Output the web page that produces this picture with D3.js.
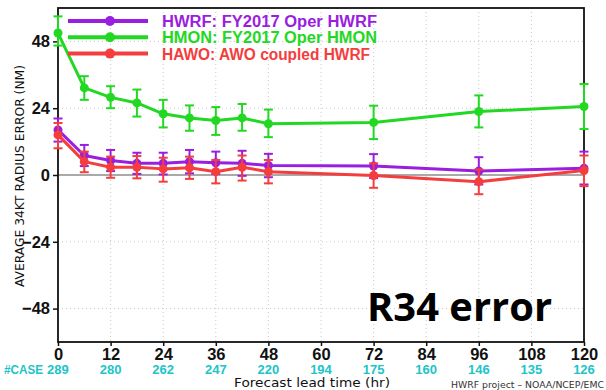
<!DOCTYPE html>
<html>
<head>
<meta charset="utf-8">
<script src="https://cdn.jsdelivr.net/npm/d3@7"></script>
<style>
  body { margin: 0; background: #fff; }
  svg { display: block; }
</style>
</head>
<body>
<div id="chart"></div>
<script>
// forecast lead times (hr) and verification counts
var leadHours = [0, 6, 12, 18, 24, 30, 36, 42, 48, 72, 96, 120];
var xTicks = [0, 12, 24, 36, 48, 60, 72, 84, 96, 108, 120];
var caseCounts = [289, 280, 262, 247, 220, 194, 175, 160, 146, 135, 126];
var yTicks = [-48, -24, 0, 24, 48];

// mean R34 error (NM) with error bar ends
var hwrfMean = [16.2, 7.0, 5.2, 4.2, 4.2, 4.8, 4.4, 4.2, 3.4, 3.2, 1.4, 2.4];
var hwrfHigh = [20.3, 10.8, 9.0, 8.0, 8.0, 9.0, 8.4, 8.7, 7.6, 7.5, 6.4, 8.4];
var hwrfLow = [12.0, 3.2, 1.4, 0.4, 0.2, 0.6, 0.4, -0.3, -0.8, -1.1, -3.4, -3.4];

var hmonMean = [51.0, 31.3, 27.9, 25.9, 22.0, 20.5, 19.6, 20.5, 18.4, 18.9, 22.8, 24.6];
var hmonHigh = [57.0, 35.5, 31.9, 30.7, 27.0, 25.0, 24.4, 25.5, 23.5, 24.9, 28.6, 32.7];
var hmonLow = [46.5, 27.0, 24.0, 21.0, 17.1, 15.9, 14.4, 15.9, 13.6, 12.9, 17.1, 16.5];

var hawoMean = [14.4, 4.8, 2.8, 2.8, 2.2, 2.6, 1.2, 2.8, 1.2, -0.2, -2.4, 1.6];
var hawoHigh = [18.7, 8.4, 6.6, 6.8, 6.2, 6.6, 5.4, 7.0, 5.4, 4.2, 2.0, 7.0];
var hawoLow = [9.6, 1.0, -1.0, -1.2, -2.4, -1.4, -3.0, -2.0, -3.0, -4.6, -6.9, -4.0];

var seriesNames = ['HWRF: FY2017  Oper  HWRF', 'HMON: FY2017  Oper  HMON', 'HAWO: AWO  coupled  HWRF'];
var seriesColors = ['#9a1ee0', '#22d822', '#f53d3d'];

var series = [
  {name: seriesNames[0], color: seriesColors[0], mean: hwrfMean, hi: hwrfHigh, lo: hwrfLow},
  {name: seriesNames[1], color: seriesColors[1], mean: hmonMean, hi: hmonHigh, lo: hmonLow},
  {name: seriesNames[2], color: seriesColors[2], mean: hawoMean, hi: hawoHigh, lo: hawoLow}
];

var W = 606, H = 390;
var x = d3.scaleLinear().domain([0, 120]).range([58, 584]);
var y = d3.scaleLinear().domain([-60, 60]).range([342, 8]);

var svg = d3.select('#chart').append('svg')
  .attr('width', W).attr('height', H);

var num = 'Liberation Sans, Arial, sans-serif';

// dotted grid
var grid = svg.append('g');
grid.selectAll('line.gx')
  .data(xTicks.filter(function(d) { return d > 0 && d < 120; }))
  .enter().append('line')
  .attr('x1', function(d) { return x(d); }).attr('x2', function(d) { return x(d); })
  .attr('y1', y(60)).attr('y2', y(-60))
  .attr('stroke', '#c8c8c8').attr('stroke-width', 1).attr('stroke-dasharray', '1,3');
grid.selectAll('line.gy')
  .data(yTicks.filter(function(d) { return d !== 0; }))
  .enter().append('line')
  .attr('y1', function(d) { return y(d); }).attr('y2', function(d) { return y(d); })
  .attr('x1', x(0)).attr('x2', x(120))
  .attr('stroke', '#c8c8c8').attr('stroke-width', 1).attr('stroke-dasharray', '1,3');

// zero line
svg.append('line')
  .attr('x1', x(0)).attr('x2', x(120)).attr('y1', y(0)).attr('y2', y(0))
  .attr('stroke', '#8c8c8c').attr('stroke-width', 1.5);

// frame
svg.append('rect')
  .attr('x', x(0)).attr('y', y(60))
  .attr('width', x(120) - x(0)).attr('height', y(-60) - y(60))
  .attr('fill', 'none').attr('stroke', '#111').attr('stroke-width', 1.8);

// axes
var xAxis = svg.append('g')
  .attr('transform', 'translate(0,' + y(-60) + ')')
  .call(d3.axisBottom(x).tickValues(xTicks).tickSize(4).tickPadding(2).tickFormat(d3.format('d')));
xAxis.select('.domain').remove();
xAxis.selectAll('line').attr('stroke', '#111').attr('stroke-width', 1.5);
xAxis.selectAll('text')
  .attr('font-family', num).attr('font-size', 16.5).attr('font-weight', 'bold')
  .attr('fill', '#111');

var yAxis = svg.append('g')
  .attr('transform', 'translate(' + x(0) + ',0)')
  .call(d3.axisLeft(y).tickValues(yTicks).tickSize(5).tickPadding(3)
    .tickFormat(function(d) { return d < 0 ? '\u2212' + (-d) : d; }));
yAxis.select('.domain').remove();
yAxis.selectAll('line').attr('stroke', '#111').attr('stroke-width', 1.5);
yAxis.selectAll('text')
  .attr('font-family', num).attr('font-size', 16.5).attr('font-weight', 'bold')
  .attr('fill', '#111');

// case counts
svg.append('text')
  .attr('x', 4).attr('y', 374)
  .attr('font-family', num).attr('font-size', 13).attr('font-weight', 'bold')
  .attr('textLength', 39).attr('lengthAdjust', 'spacingAndGlyphs')
  .attr('fill', '#20c4c8').text('#CASE');
svg.selectAll('text.cases')
  .data(caseCounts)
  .enter().append('text')
  .attr('x', function(d, i) { return i === 0 ? 47 : x(xTicks[i]); })
  .attr('y', 374)
  .attr('text-anchor', function(d, i) { return i === 0 ? 'start' : 'middle'; })
  .attr('font-family', num).attr('font-size', 13).attr('font-weight', 'bold')
  .attr('fill', '#20c4c8')
  .text(function(d) { return d; });

// axis titles
svg.append('text')
  .attr('x', 312).attr('y', 387)
  .attr('text-anchor', 'middle')
  .attr('font-family', 'DejaVu Sans, sans-serif').attr('font-size', 11.5)
  .attr('textLength', 156).attr('lengthAdjust', 'spacingAndGlyphs')
  .attr('fill', '#111').text('Forecast lead time (hr)');

svg.append('text')
  .attr('transform', 'translate(24,' + 176 + ') rotate(-90)')
  .attr('text-anchor', 'middle')
  .attr('font-family', 'DejaVu Sans, sans-serif').attr('font-size', 12)
  .attr('textLength', 222).attr('lengthAdjust', 'spacingAndGlyphs')
  .attr('fill', '#111').text('AVERAGE  34KT  RADIUS  ERROR  (NM)');

svg.append('text')
  .attr('x', 604).attr('y', 388)
  .attr('text-anchor', 'end')
  .attr('font-family', 'DejaVu Sans, sans-serif').attr('font-size', 8)
  .attr('textLength', 153).attr('lengthAdjust', 'spacingAndGlyphs')
  .attr('fill', '#333').text('HWRF project \u2013 NOAA/NCEP/EMC');

// series
var line = d3.line()
  .x(function(d) { return x(d[0]); })
  .y(function(d) { return y(d[1]); });

series.forEach(function(s) {
  var g = svg.append('g');
  var pts = leadHours.map(function(h, i) { return [h, s.mean[i], s.hi[i], s.lo[i]]; });

  g.selectAll('line.err')
    .data(pts).enter().append('line')
    .attr('x1', function(d) { return x(d[0]); }).attr('x2', function(d) { return x(d[0]); })
    .attr('y1', function(d) { return y(d[2]); }).attr('y2', function(d) { return y(d[3]); })
    .attr('stroke', s.color).attr('stroke-width', 2);
  [2, 3].forEach(function(k) {
    g.selectAll('line.cap' + k)
      .data(pts).enter().append('line')
      .attr('x1', function(d) { return x(d[0]) - 4.5; }).attr('x2', function(d) { return x(d[0]) + 4.5; })
      .attr('y1', function(d) { return y(d[k]); }).attr('y2', function(d) { return y(d[k]); })
      .attr('stroke', s.color).attr('stroke-width', 2);
  });

  g.append('path')
    .datum(pts)
    .attr('d', line)
    .attr('fill', 'none').attr('stroke', s.color).attr('stroke-width', 3)
    .attr('stroke-linejoin', 'round');

  g.selectAll('circle')
    .data(pts).enter().append('circle')
    .attr('cx', function(d) { return x(d[0]); })
    .attr('cy', function(d) { return y(d[1]); })
    .attr('r', 4.5).attr('fill', s.color);
});

// legend
var legend = svg.append('g');
series.forEach(function(s, i) {
  var ly = 21 + i * 16.3;
  legend.append('line')
    .attr('x1', 68).attr('x2', 148).attr('y1', ly).attr('y2', ly)
    .attr('stroke', s.color).attr('stroke-width', 4);
  legend.append('circle')
    .attr('cx', 110).attr('cy', ly).attr('r', 5).attr('fill', s.color);
  legend.append('text')
    .attr('x', 162).attr('y', ly + 6)
    .attr('font-family', num).attr('font-size', 16).attr('font-weight', 'bold')
    .attr('textLength', i === 2 ? 208 : 215).attr('lengthAdjust', 'spacingAndGlyphs')
    .attr('fill', s.color).text(s.name);
});

// big label
svg.append('text')
  .attr('x', 367).attr('y', 321)
  .attr('font-family', 'Open Sans, Liberation Sans, sans-serif').attr('font-size', 39)
  .attr('font-weight', 'bold')
  .attr('textLength', 185).attr('lengthAdjust', 'spacingAndGlyphs')
  .attr('fill', '#000').text('R34 error');
</script>
</body>
</html>
